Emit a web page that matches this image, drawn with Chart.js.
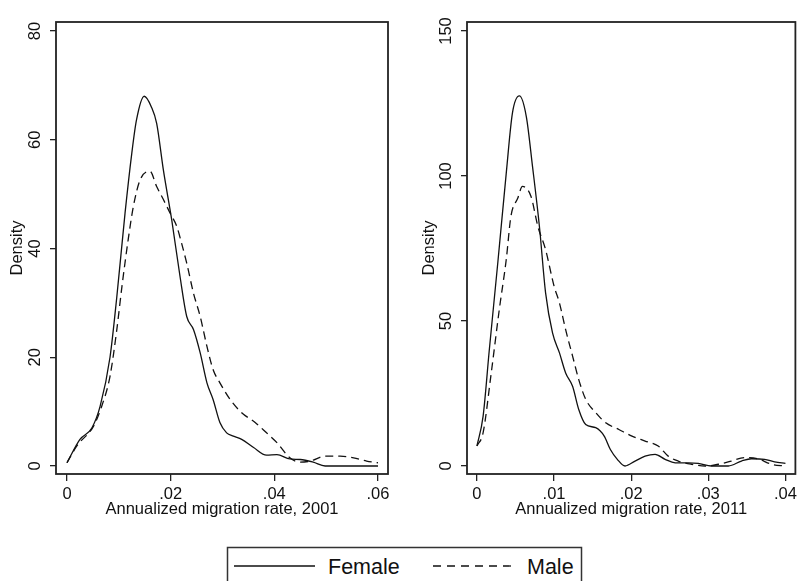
<!DOCTYPE html>
<html>
<head>
<meta charset="utf-8">
<script src="https://cdn.jsdelivr.net/npm/chart.js@4/dist/chart.umd.min.js"></script>
<style>
  html, body { margin: 0; padding: 0; background: #fff; }
  #wrap { position: relative; width: 801px; height: 581px; overflow: hidden; }
  #c2001 { position: absolute; left: 0; top: 0; }
  #c2011 { position: absolute; left: 400px; top: 0; }
  #legend { position: absolute; left: 0; top: 0; }
</style>
</head>
<body>
<div id="wrap">
  <canvas id="c2001" width="400" height="520"></canvas>
  <canvas id="c2011" width="401" height="520"></canvas>
  <svg id="legend" width="801" height="581">
    <rect x="227.5" y="547.5" width="354" height="60" fill="#fff" stroke="#333" stroke-width="1.5"/>
    <line x1="234" y1="566" x2="315" y2="566" stroke="#111" stroke-width="1.3"/>
    <text x="328" y="574" font-family="Liberation Sans, Arial, sans-serif" font-size="21.5" fill="#111">Female</text>
    <line x1="433" y1="566" x2="512" y2="566" stroke="#111" stroke-width="1.3" stroke-dasharray="8,6"/>
    <text x="527" y="574" font-family="Liberation Sans, Arial, sans-serif" font-size="21.5" fill="#111">Male</text>
  </svg>
</div>
<script>
'use strict';

// 2001 panel
var fem2001X = [0, .0025, .0048, .0064, .0083, .0096, .0112, .0125, .0134, .0149, .0163, .0173, .0186, .0202, .0218, .0231, .0244, .0257, .0270, .0282, .0295, .0308, .0321, .0337, .0360, .0385, .0405, .0430, .0450, .0475, .0498, .0600];
var fem2001Y = [0.6, 4.9, 7, 11, 20, 31, 46.5, 57.5, 63.6, 68, 66, 63, 54.4, 45.3, 34.9, 27.5, 25.1, 20.8, 15.3, 12.2, 8, 6.1, 5.5, 4.9, 3.4, 2, 2.1, 1.3, 1.2, 0.7, 0, 0];
var male2001X = [0, .0019, .0051, .0067, .0083, .0096, .0106, .0118, .0128, .0141, .0160, .0173, .0186, .0199, .0212, .0221, .0231, .0244, .0257, .0270, .0282, .0295, .0315, .0337, .0363, .0385, .0405, .0430, .0450, .0469, .0498, .0527, .0553, .0578, .0600];
var male2001Y = [0.6, 3.7, 7.3, 11, 16.5, 25, 33, 41.6, 47.7, 52.6, 54.2, 51.4, 49, 46.5, 44, 41, 37.3, 31.8, 27.5, 22, 17.7, 15.3, 12.2, 9.8, 8, 6.1, 4.3, 1.5, 0.7, 0.9, 1.8, 1.8, 1.5, 0.9, 0.6];
var xTicks2001 = [0, 0.02, 0.04, 0.06];
var xLabels2001 = ['0', '.02', '.04', '.06'];
var yTicks2001 = [0, 20, 40, 60, 80];

// 2011 panel
var fem2011X = [0, .0008, .0016, .0027, .0038, .0046, .0055, .0064, .0072, .0081, .0089, .0098, .0107, .0115, .0124, .0132, .0141, .0154, .0165, .0173, .0182, .0192, .0205, .0218, .0231, .0244, .0257, .0274, .0287, .0304, .0326, .0343, .0356, .0373, .0386, .0400];
var fem2011Y = [6.9, 17.2, 40, 70, 101, 121.7, 127.6, 120.5, 103.4, 82.6, 59.7, 45.9, 39, 32.1, 27.5, 19.5, 14.3, 13.2, 10.3, 5.7, 2.3, 0, 1.7, 3.4, 4, 2.3, 1.1, 1.1, 0.9, 0, 0, 1.7, 2.5, 2.3, 1.4, 0.9];
var male2011X = [0, .0008, .0018, .0029, .0038, .0044, .0053, .0059, .0070, .0079, .0089, .0100, .0107, .0115, .0124, .0132, .0141, .0154, .0167, .0184, .0201, .0218, .0235, .0248, .0261, .0278, .0296, .0313, .0330, .0347, .0364, .0382, .0400];
var male2011Y = [6.9, 11.5, 31, 54, 71.2, 86, 92.4, 96.4, 93, 82.6, 74.6, 62, 56.2, 47, 37.9, 29.8, 23, 18.4, 14.9, 12.6, 10.3, 8.6, 6.9, 3.4, 1.7, 0.6, 0, 0.6, 1.7, 2.9, 2.5, 0.6, 0];
var xTicks2011 = [0, 0.01, 0.02, 0.03, 0.04];
var xLabels2011 = ['0', '.01', '.02', '.03', '.04'];
var yTicks2011 = [0, 50, 100, 150];

var ink = '#111';
var fontFam = "'Liberation Sans', Arial, sans-serif";

function toPoints(xs, ys) {
    return xs.map(function (x, i) { return {x: x, y: ys[i]}; });
}

// full box round the plot region
var frameBox = {
    id: 'frameBox',
    afterDraw: function (chart) {
        var a = chart.chartArea, ctx = chart.ctx;
        ctx.save();
        ctx.strokeStyle = '#222';
        ctx.lineWidth = 1.8;
        ctx.strokeRect(a.left, a.top, a.right - a.left, a.bottom - a.top);
        ctx.restore();
    }
};

function generateDensityChart(canvas, cfg) {
    return new Chart(canvas, {
        type: 'line',
        data: {
            datasets: [
                {
                    label: 'Female',
                    data: toPoints(cfg.femX, cfg.femY),
                    borderColor: ink,
                    borderWidth: 1.3,
                    pointRadius: 0,
                    fill: false,
                    cubicInterpolationMode: 'monotone'
                },
                {
                    label: 'Male',
                    data: toPoints(cfg.maleX, cfg.maleY),
                    borderColor: ink,
                    borderWidth: 1.3,
                    borderDash: [8, 5],
                    pointRadius: 0,
                    fill: false,
                    cubicInterpolationMode: 'monotone'
                }
            ]
        },
        options: {
            responsive: false,
            animation: false,
            layout: { padding: { left: 0, top: 22, right: cfg.padRight, bottom: 0 } },
            plugins: { legend: { display: false }, tooltip: { enabled: false } },
            scales: {
                x: {
                    type: 'linear',
                    min: cfg.xMin,
                    max: cfg.xMax,
                    afterBuildTicks: function (s) { s.ticks = cfg.xTicks.map(function (v) { return {value: v}; }); },
                    afterFit: function (s) { s.height = 46; },
                    border: { display: false },
                    grid: { drawOnChartArea: false, drawTicks: true, tickLength: 7, color: '#222', lineWidth: 1.3 },
                    ticks: {
                        color: ink,
                        padding: 4,
                        maxRotation: 0,
                        font: { family: fontFam, size: 16.5 },
                        callback: function (v, i) { return cfg.xLabels[i]; }
                    },
                    title: {
                        display: true,
                        text: cfg.xTitle,
                        color: ink,
                        padding: { top: 0, bottom: 1 },
                        font: { family: fontFam, size: 16.5 }
                    }
                },
                y: {
                    type: 'linear',
                    min: cfg.yMin,
                    max: cfg.yMax,
                    afterBuildTicks: function (s) { s.ticks = cfg.yTicks.map(function (v) { return {value: v}; }); },
                    afterFit: function (s) { s.width = cfg.yWidth; },
                    border: { display: false },
                    grid: { drawOnChartArea: false, drawTicks: true, tickLength: 6, color: '#222', lineWidth: 1.3 },
                    ticks: {
                        color: ink,
                        minRotation: 90,
                        maxRotation: 90,
                        crossAlign: 'center',
                        padding: cfg.yTickPad,
                        font: { family: fontFam, size: 16.5 },
                        callback: function (v) { return String(v); }
                    },
                    title: {
                        display: true,
                        text: 'Density',
                        color: ink,
                        padding: { top: cfg.yTitlePad, bottom: 0 },
                        font: { family: fontFam, size: 16.5 }
                    }
                }
            }
        },
        plugins: [frameBox]
    });
}

generateDensityChart(document.getElementById('c2001'), {
    femX: fem2001X, femY: fem2001Y, maleX: male2001X, maleY: male2001Y,
    xMin: -0.00212, xMax: 0.06193, yMin: -1.47, yMax: 81.66,
    xTicks: xTicks2001, xLabels: xLabels2001, yTicks: yTicks2001,
    xTitle: 'Annualized migration rate, 2001',
    padRight: 12, yWidth: 56, yTickPad: 5, yTitlePad: 8
});

generateDensityChart(document.getElementById('c2011'), {
    femX: fem2011X, femY: fem2011Y, maleX: male2011X, maleY: male2011Y,
    xMin: -0.00129, xMax: 0.04129, yMin: -2.76, yMax: 153.1,
    xTicks: xTicks2011, xLabels: xLabels2011, yTicks: yTicks2011,
    xTitle: 'Annualized migration rate, 2011',
    padRight: 3, yWidth: 67, yTickPad: 1, yTitlePad: 20
});
</script>
</body>
</html>
